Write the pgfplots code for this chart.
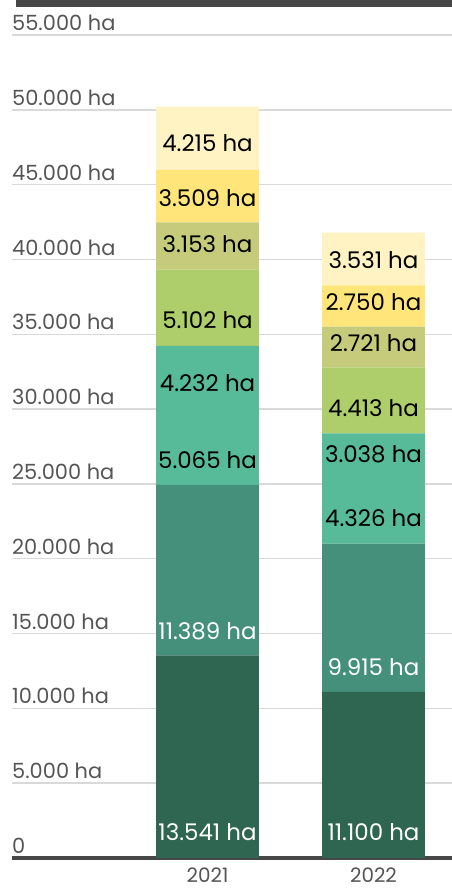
\documentclass[border=0pt]{standalone}
\usepackage{fontspec}
\setmainfont{Poppins}
\usepackage{pgfplots}
\pgfplotsset{compat=1.18}
\definecolor{c1}{HTML}{2E6652}
\definecolor{c2}{HTML}{45907A}
\definecolor{c3}{HTML}{57BA98}
\definecolor{c4}{HTML}{57BA98}
\definecolor{c5}{HTML}{AECD6B}
\definecolor{c6}{HTML}{C5CB7A}
\definecolor{c7}{HTML}{FFE57A}
\definecolor{c8}{HTML}{FFF2C3}
\definecolor{tickgray}{HTML}{555555}
\definecolor{basegray}{HTML}{474747}
\definecolor{gridgray}{HTML}{D9D9D9}
\pgfplotsset{base/.style={
  at={(12bp,32bp)}, anchor=south west,
  scale only axis, width=440bp, height=823bp,
  ymin=0, ymax=55000, xmin=-1.178, xmax=1.473,
  scaled y ticks=false}}
\begin{document}
\begin{tikzpicture}
\path[use as bounding box] (0,0) rectangle (452bp,890bp);
\fill[basegray] (16bp,883bp) rectangle (452bp,890bp);
\begin{axis}[
  base,
  ybar stacked, bar width=0.62,
  axis x line*=bottom, axis y line*=left,
  y axis line style={draw=none},
  x axis line style={line width=4bp, draw=basegray},
  major tick length=0,
  ymajorgrids, grid style={line width=1.4bp, draw=gridgray},
  ytick={0,5000,10000,15000,20000,25000,30000,35000,40000,45000,50000,55000},
  yticklabels={0,5.000 ha,10.000 ha,15.000 ha,20.000 ha,25.000 ha,30.000 ha,35.000 ha,40.000 ha,45.000 ha,50.000 ha,55.000 ha},
  yticklabel style={anchor=south west, inner sep=0pt, xshift=0bp, yshift=4bp, font=\fontsize{21}{24}\selectfont, text=tickgray},
  xtick={0,1}, xticklabels={2021,2022},
  xticklabel style={anchor=north, inner sep=0pt, yshift=-10bp, font=\fontsize{20}{22}\selectfont, text=tickgray},
]
\addplot[fill=c1, draw=none] coordinates {(0,13541) (1,11100)};
\addplot[fill=c2, draw=none] coordinates {(0,11389) (1,9915)};
\addplot[fill=c3, draw=none] coordinates {(0,5065) (1,4326)};
\addplot[fill=c4, draw=none] coordinates {(0,4232) (1,3038)};
\addplot[fill=c5, draw=none] coordinates {(0,5102) (1,4413)};
\addplot[fill=c6, draw=none] coordinates {(0,3153) (1,2721)};
\addplot[fill=c7, draw=none] coordinates {(0,3509) (1,2750)};
\addplot[fill=c8, draw=none] coordinates {(0,4215) (1,3531)};
\end{axis}
\begin{axis}[base, hide axis, clip=false]
\node[white, font=\fontsize{23}{25}\selectfont, inner sep=0pt] at (axis cs:0,1738) {13.541 ha};
\node[white, font=\fontsize{23}{25}\selectfont, inner sep=0pt] at (axis cs:0,15173) {11.389 ha};
\node[black, font=\fontsize{23}{25}\selectfont, inner sep=0pt] at (axis cs:0,26603) {5.065 ha};
\node[black, font=\fontsize{23}{25}\selectfont, inner sep=0pt] at (axis cs:0,31749) {4.232 ha};
\node[black, font=\fontsize{23}{25}\selectfont, inner sep=0pt] at (axis cs:0,35960) {5.102 ha};
\node[black, font=\fontsize{23}{25}\selectfont, inner sep=0pt] at (axis cs:0,41040) {3.153 ha};
\node[black, font=\fontsize{23}{25}\selectfont, inner sep=0pt] at (axis cs:0,44114) {3.509 ha};
\node[black, font=\fontsize{23}{25}\selectfont, inner sep=0pt] at (axis cs:0,47790) {4.215 ha};
\node[white, font=\fontsize{23}{25}\selectfont, inner sep=0pt] at (axis cs:1,1738) {11.100 ha};
\node[white, font=\fontsize{23}{25}\selectfont, inner sep=0pt] at (axis cs:1,12766) {9.915 ha};
\node[black, font=\fontsize{23}{25}\selectfont, inner sep=0pt] at (axis cs:1,22726) {4.326 ha};
\node[black, font=\fontsize{23}{25}\selectfont, inner sep=0pt] at (axis cs:1,27003) {3.038 ha};
\node[black, font=\fontsize{23}{25}\selectfont, inner sep=0pt] at (axis cs:1,30078) {4.413 ha};
\node[black, font=\fontsize{23}{25}\selectfont, inner sep=0pt] at (axis cs:1,34423) {2.721 ha};
\node[black, font=\fontsize{23}{25}\selectfont, inner sep=0pt] at (axis cs:1,37163) {2.750 ha};
\node[black, font=\fontsize{23}{25}\selectfont, inner sep=0pt] at (axis cs:1,39970) {3.531 ha};
\end{axis}
\end{tikzpicture}
\end{document}
